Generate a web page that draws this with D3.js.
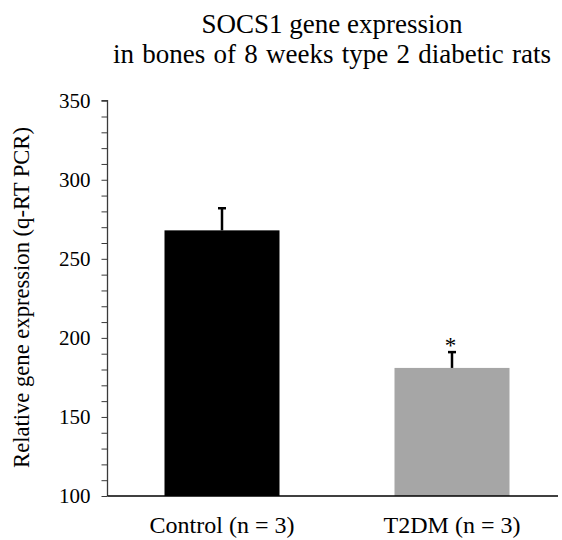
<!DOCTYPE html>
<html>
<head>
<meta charset="utf-8">
<script src="https://cdn.jsdelivr.net/npm/d3@7"></script>
<style>
  html, body { margin: 0; padding: 0; background: #fff; }
  svg { display: block; }
  text { font-family: "Liberation Serif", "Times New Roman", serif; fill: #000; }
</style>
</head>
<body>
<svg id="chart" width="562" height="540"></svg>
<script>
// Group names, mean expression and upper error (SE) per group
const categories = ["Control (n = 3)", "T2DM (n = 3)"];
const means = [268, 181];
const errors = [14, 10];
const barColors = ["#000000", "#a6a6a6"];
const significance = ["", "*"];
const yTicks = [100, 150, 200, 250, 300, 350];
const titleLines = ["SOCS1 gene expression", "in bones of 8 weeks type 2 diabetic rats"];
const yLabel = "Relative gene expression (q-RT PCR)";

const svg = d3.select("#chart");
const plotLeft = 107.5, plotRight = 558, plotTop = 100.7, plotBottom = 496;

const x = d3.scaleBand().domain(categories).range([107, 567]).paddingInner(0.5).paddingOuter(0.25);
const y = d3.scaleLinear().domain([100, 350]).range([plotBottom, plotTop]);

// Title
svg.append("g").selectAll("text").data(titleLines).join("text")
  .attr("x", 332).attr("y", (d, i) => 33.3 + i * 30)
  .attr("text-anchor", "middle").attr("font-size", 27)
  .attr("word-spacing", (d, i) => i === 1 ? 1.5 : 0)
  .text(d => d);

// Bars
svg.append("g").selectAll("rect").data(categories).join("rect")
  .attr("x", d => x(d)).attr("width", x.bandwidth())
  .attr("y", (d, i) => y(means[i]))
  .attr("height", (d, i) => y(100) - y(means[i]))
  .attr("fill", (d, i) => barColors[i]);

// Error bars (upper only)
const eb = svg.append("g").attr("stroke", "#000").attr("stroke-width", 2.5);
categories.forEach((c, i) => {
  const cx = x(c) + x.bandwidth() / 2;
  eb.append("line").attr("x1", cx).attr("x2", cx).attr("y1", y(means[i])).attr("y2", y(means[i] + errors[i]));
  eb.append("line").attr("x1", cx - 4).attr("x2", cx + 4).attr("y1", y(means[i] + errors[i])).attr("y2", y(means[i] + errors[i]));
});

// Significance markers
svg.append("g").selectAll("text").data(categories).join("text")
  .attr("x", d => x(d) + x.bandwidth() / 2 - 1.5)
  .attr("y", (d, i) => y(means[i] + errors[i]) + 1)
  .attr("text-anchor", "middle").attr("font-size", 23)
  .attr("font-family", "Liberation Sans, Arial, sans-serif")
  .text((d, i) => significance[i]);

// Y axis with minor ticks every 10
const yAxis = d3.axisLeft(y).tickValues(d3.range(100, 351, 10)).tickSize(6).tickPadding(11)
  .tickFormat(d => yTicks.includes(d) ? d : "");
const gy = svg.append("g").attr("transform", `translate(${plotLeft},0)`).call(yAxis);
gy.select(".domain").attr("stroke", "#3a3a3a").attr("stroke-width", 1.3).attr("d", `M-6,${plotTop}H0V${plotBottom}`);
gy.selectAll(".tick line").attr("stroke", "#3a3a3a").attr("stroke-width", 1);
gy.selectAll(".tick text").attr("font-size", 21).attr("font-family", "Liberation Serif, serif").attr("fill", "#000");

// X axis baseline
svg.append("line").attr("x1", plotLeft).attr("x2", plotRight).attr("y1", plotBottom).attr("y2", plotBottom)
  .attr("stroke", "#000").attr("stroke-width", 1.5);

// Category labels
svg.append("g").selectAll("text").data(categories).join("text")
  .attr("x", d => x(d) + x.bandwidth() / 2).attr("y", 533)
  .attr("text-anchor", "middle").attr("font-size", 24)
  .text(d => d);

// Y label
svg.append("text")
  .attr("transform", `translate(28.5,297.5) rotate(-90)`)
  .attr("text-anchor", "middle").attr("font-size", 22.6)
  .text(yLabel);
</script>
</body>
</html>
